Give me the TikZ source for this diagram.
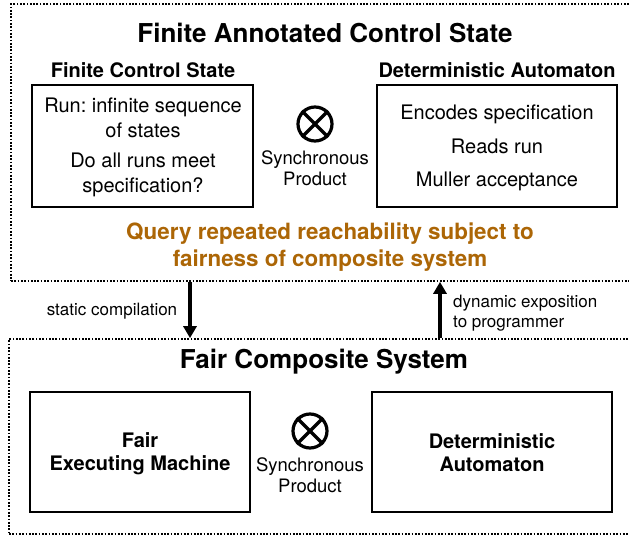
\documentclass[tikz,border=0pt]{standalone}
\usepackage{fontspec}
\setmainfont{TeX Gyre Heros}
\usetikzlibrary{arrows.meta}
\definecolor{qorange}{RGB}{172,102,6}
\frenchspacing
\begin{document}
\begin{tikzpicture}[x=1pt,y=-1pt,
  container/.style={draw, line width=1.7pt, dash pattern=on 1.7pt off 1.6pt, inner sep=0pt},
  box/.style={draw, line width=2.3pt, inner sep=0pt},
  bigtitle/.style={font=\fontsize{26}{30}\selectfont\bfseries},
  head/.style={font=\fontsize{20}{24}\selectfont\bfseries},
  body/.style={font=\fontsize{20}{25}\selectfont, align=center, inner sep=0pt},
  boldbody/.style={font=\fontsize{20}{23}\selectfont\bfseries, align=center, inner sep=0pt},
  prodlabel/.style={font=\fontsize{18.5}{21.5}\selectfont, align=center, inner sep=0pt},
  small/.style={font=\fontsize{17}{20}\selectfont, inner sep=0pt},
  query/.style={font=\fontsize{22.4}{27}\selectfont\bfseries, text=qorange, align=center, inner sep=0pt},
  prodcircle/.style={draw, circle, line width=3.2pt, minimum size=34pt, inner sep=0pt},
  cross/.style={line width=3.2pt},
  arr/.style={line width=3.6pt, -{Triangle[width=13pt,length=12pt]}}
]
\useasboundingbox (0,0) rectangle (629,537);
% containers
\node[container, minimum width=639pt, minimum height=277pt] (fac) at (330.5,142.5) {};
\node[container, minimum width=641pt, minimum height=195pt] (fcs) at (329.5,436.5) {};
% top part
\node[bigtitle] (t1) at (325,33) {Finite Annotated Control State};
\node[head] (h1) at (143,70) {Finite Control State};
\node[head] (h2) at (497,70) {Deterministic Automaton};
\node[box, minimum width=221pt, minimum height=122pt] (b1) at (142.5,146) {};
\node[box, minimum width=240pt, minimum height=122pt] (b2) at (497,146) {};
\node[body] (p1) at (143,118) {Run: infinite sequence\\of states};
\node[body] (p2) at (143,175) {Do all runs meet\\specification?};
\node[body, font=\fontsize{20}{33.5}\selectfont] (p3) at (497,148) {Encodes specification\\Reads run\\Muller acceptance};
\node[prodcircle] (o1) at (315,124) {};
\draw[cross] (o1.north east) -- (o1.south west) (o1.north west) -- (o1.south east);
\node[prodlabel] (s1) at (315,168) {Synchronous\\Product};
\node[query] (q) at (330,247) {Query repeated reachability subject to\\fairness of composite system};
% bottom part
\node[bigtitle] (t2) at (324,362) {Fair Composite System};
\node[box, minimum width=220pt, minimum height=120pt] (b3) at (140,452) {};
\node[box, minimum width=240pt, minimum height=120pt] (b4) at (492,452) {};
\node[boldbody] (p4) at (140,454) {Fair\\Executing Machine};
\node[boldbody] (p5) at (492,453) {Deterministic\\Automaton};
\node[prodcircle] (o2) at (310,431) {};
\draw[cross] (o2.north east) -- (o2.south west) (o2.north west) -- (o2.south east);
\node[prodlabel] (s2) at (310,475) {Synchronous\\Product};
% arrows
\coordinate (dx) at (190,0);
\coordinate (ux) at (440,0);
\draw[arr] (fac.south -| dx) -- (fcs.north -| dx);
\draw[arr] (fcs.north -| ux) -- (fac.south -| ux);
\node[small] (l1) at (112,311) {static compilation};
\node[small, align=left, anchor=west] (l2) at (453,313) {dynamic exposition\\to programmer};
\end{tikzpicture}
\end{document}
